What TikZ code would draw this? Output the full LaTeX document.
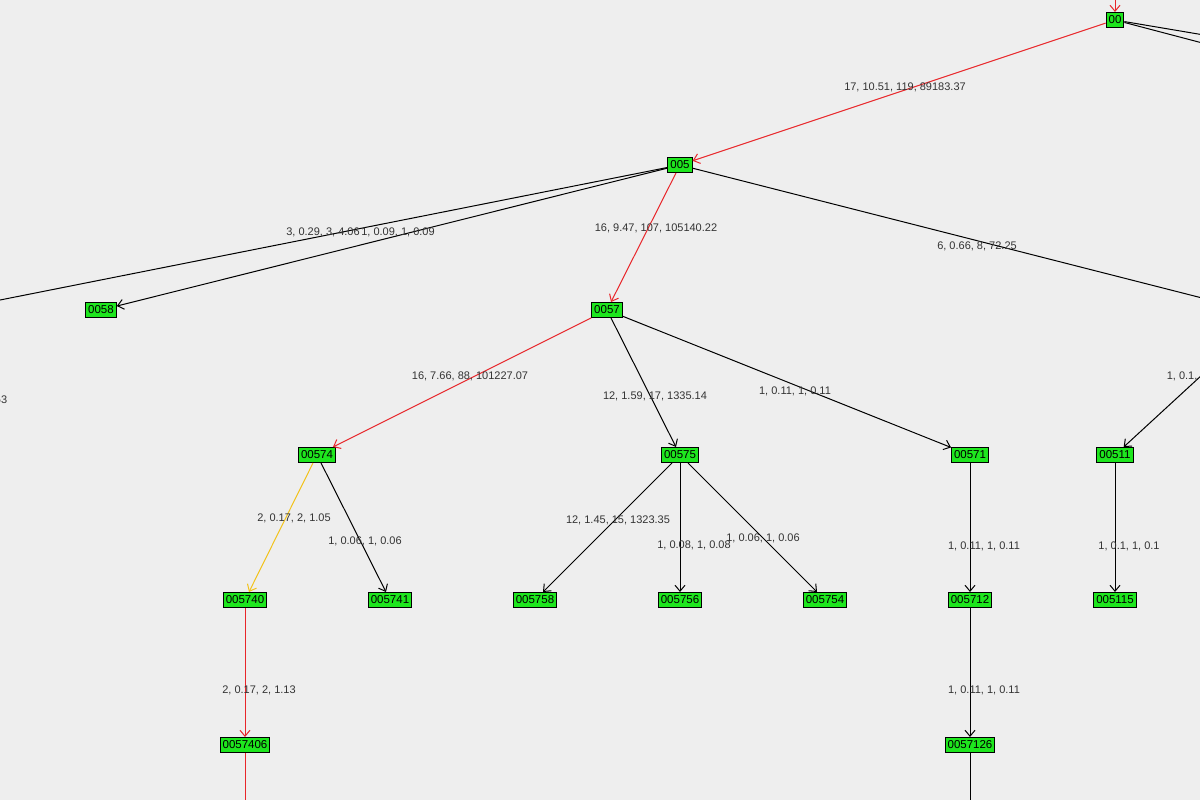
\documentclass[tikz,border=0pt]{standalone}
\usepackage{fontspec}
\setmainfont{Liberation Sans}
\usetikzlibrary{arrows.meta}
\definecolor{bg}{HTML}{EEEEEE}
\definecolor{ng}{HTML}{1EE61E}
\definecolor{er}{HTML}{E8262A}
\definecolor{ey}{HTML}{F2C21A}
\begin{document}
\begin{tikzpicture}[x=1pt,y=-1pt,line width=1pt,
 nd/.style={draw=black,fill=ng,font=\fontsize{11.5}{12}\selectfont,inner xsep=2.5pt,inner ysep=1pt,minimum height=15pt,text height=8pt,text depth=0.5pt},
 lb/.style={font=\fontsize{11}{12}\selectfont,text=black!80},
 ed/.style={draw=black,-{Straight Barb[length=6pt,width=10pt]}},
 rd/.style={ed,draw=er},
 yd/.style={ed,draw=ey}]
\fill[bg] (0,0) rectangle (1200,800);
\useasboundingbox (0,0) rectangle (1200,800);
\clip (0,0) rectangle (1200,800);
\node[nd] (n00) at (1115,20) {00};
\node[nd] (n005) at (680,165) {005};
\node[nd] (n0058) at (101,310) {0058};
\node[nd] (n0057) at (607,310) {0057};
\node[nd] (n00574) at (317,455) {00574};
\node[nd] (n00575) at (680,455) {00575};
\node[nd] (n00571) at (970,455) {00571};
\node[nd] (n00511) at (1115,455) {00511};
\node[nd] (n005740) at (245,600) {005740};
\node[nd] (n005741) at (390,600) {005741};
\node[nd] (n005758) at (535,600) {005758};
\node[nd] (n005756) at (680,600) {005756};
\node[nd] (n005754) at (825,600) {005754};
\node[nd] (n005712) at (970,600) {005712};
\node[nd] (n005115) at (1115,600) {005115};
\node[nd] (n0057406) at (245,745) {0057406};
\node[nd] (n0057126) at (970,745) {0057126};
\coordinate (t0) at (1115,-20);
\coordinate (r1) at (1210,36);
\coordinate (r2) at (1210,45);
\coordinate (l1) at (-10,302);
\coordinate (r3) at (1210,300);
\coordinate (r4) at (1240,340);
\coordinate (b1) at (245,810);
\coordinate (b2) at (970,810);
\draw[rd] (t0) -- (n00);
\draw (n00) -- (r1);
\draw (n00) -- (r2);
\draw[rd] (n00) -- (n005);
\draw (n005) -- (l1);
\draw[ed] (n005) -- (n0058);
\draw[rd] (n005) -- (n0057);
\draw (n005) -- (r3);
\draw[ed] (r4) -- (n00511);
\draw[rd] (n0057) -- (n00574);
\draw[ed] (n0057) -- (n00575);
\draw[ed] (n0057) -- (n00571);
\draw[yd] (n00574) -- (n005740);
\draw[ed] (n00574) -- (n005741);
\draw[ed] (n00575) -- (n005758);
\draw[ed] (n00575) -- (n005756);
\draw[ed] (n00575) -- (n005754);
\draw[ed] (n00571) -- (n005712);
\draw[ed] (n00511) -- (n005115);
\draw[rd] (n005740) -- (n0057406);
\draw[ed] (n005712) -- (n0057126);
\draw[er] (n0057406) -- (b1);
\draw (n0057126) -- (b2);
\node[lb] (a1) at (905,87) {17, 10.51, 119, 89183.37};
\node[lb] (a2) at (656,228) {16, 9.47, 107, 105140.22};
\node[lb] (a3) at (323,232) {3, 0.29, 3, 4.06};
\node[lb] (a4) at (398,232) {1, 0.09, 1, 0.09};
\node[lb] (a5) at (977,246) {6, 0.66, 8, 72.25};
\node[lb] (a6) at (470,376) {16, 7.66, 88, 101227.07};
\node[lb] (a7) at (655,396) {12, 1.59, 17, 1335.14};
\node[lb] (a8) at (795,391) {1, 0.11, 1, 0.11};
\node[lb,anchor=west] (a9) at (1163,376) {1, 0.1, 1, 0.1};
\node[lb,anchor=east] (a10) at (11,400) {8, 0.53};
\node[lb] (a11) at (294,518) {2, 0.17, 2, 1.05};
\node[lb] (a12) at (365,541) {1, 0.06, 1, 0.06};
\node[lb] (a13) at (618,520) {12, 1.45, 15, 1323.35};
\node[lb] (a14) at (694,545) {1, 0.08, 1, 0.08};
\node[lb] (a15) at (763,538) {1, 0.06, 1, 0.06};
\node[lb] (a16) at (984,546) {1, 0.11, 1, 0.11};
\node[lb] (a17) at (1129,546) {1, 0.1, 1, 0.1};
\node[lb] (a18) at (259,690) {2, 0.17, 2, 1.13};
\node[lb] (a19) at (984,690) {1, 0.11, 1, 0.11};
\end{tikzpicture}
\end{document}
